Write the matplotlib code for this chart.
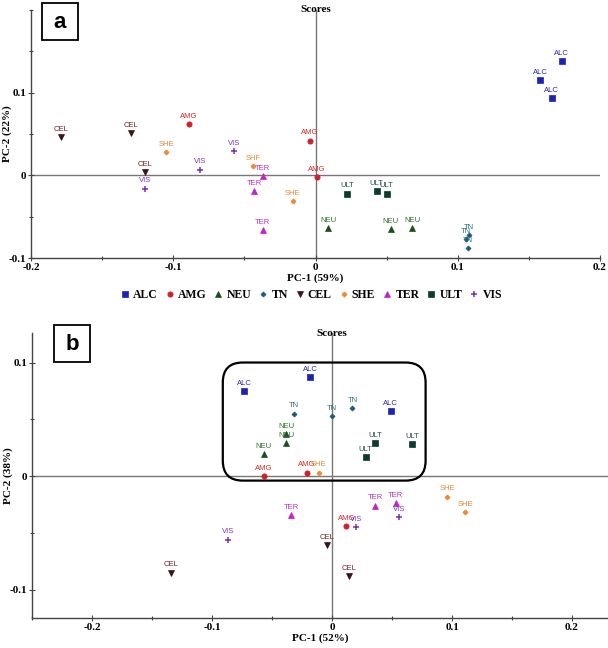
import matplotlib
matplotlib.use("Agg")
import matplotlib.pyplot as plt
import matplotlib.transforms as mtransforms
from matplotlib.lines import Line2D
from matplotlib.patches import Rectangle, FancyBboxPatch
from matplotlib.ticker import MultipleLocator, FixedLocator, FuncFormatter

plt.rcParams['axes.unicode_minus'] = False

groups = ['ALC', 'AMG', 'NEU', 'TN', 'CEL', 'SHE', 'TER', 'ULT', 'VIS']

# panel a scores
a_label = ['CEL', 'CEL', 'CEL', 'VIS', 'SHE', 'AMG', 'VIS', 'VIS', 'SHE', 'TER', 'TER', 'TER',
           'SHE', 'AMG', 'AMG', 'ULT', 'ULT', 'ULT', 'NEU', 'NEU', 'NEU', 'TN', 'TN', 'TN',
           'ALC', 'ALC', 'ALC']
a_pc1 = [-0.179, -0.130, -0.120, -0.120, -0.105, -0.089, -0.081, -0.057, -0.044, -0.037, -0.043, -0.037,
         -0.016, -0.004, 0.001, 0.022, 0.043, 0.050, 0.009, 0.053, 0.068, 0.108, 0.106, 0.107,
         0.173, 0.158, 0.166]
a_pc2 = [0.046, 0.051, 0.004, -0.016, 0.028, 0.062, 0.007, 0.029, 0.011, -0.001, -0.019, -0.066,
         -0.031, 0.042, -0.002, -0.022, -0.019, -0.022, -0.064, -0.065, -0.064, -0.072, -0.077, -0.088,
         0.138, 0.115, 0.093]
a_text = ['CEL', 'CEL', 'CEL', 'VIS', 'SHE', 'AMG', 'VIS', 'VIS', 'SHF', 'TER', 'TER', 'TER',
          'SHE', 'AMG', 'AMG', 'ULT', 'ULT', 'ULT', 'NEU', 'NEU', 'NEU', 'TN', 'TN', 'TN',
          'ALC', 'ALC', 'ALC']

# panel b scores
b_label = ['ALC', 'ALC', 'TN', 'NEU', 'NEU', 'NEU', 'AMG', 'AMG', 'SHE', 'TER', 'VIS', 'CEL',
           'TN', 'TN', 'ALC', 'ULT', 'ULT', 'ULT', 'TER', 'TER', 'VIS', 'AMG', 'VIS', 'CEL',
           'CEL', 'SHE', 'SHE']
b_pc1 = [-0.073, -0.018, -0.032, -0.038, -0.038, -0.057, -0.057, -0.021, -0.011, -0.034, -0.087, -0.134,
         0.000, 0.017, 0.049, 0.036, 0.028, 0.067, 0.036, 0.053, 0.056, 0.012, 0.020, -0.004,
         0.014, 0.096, 0.111]
b_pc2 = [0.075, 0.087, 0.055, 0.037, 0.029, 0.019, 0.000, 0.003, 0.003, -0.034, -0.056, -0.085,
         0.053, 0.060, 0.057, 0.029, 0.017, 0.028, -0.026, -0.024, -0.036, -0.044, -0.045, -0.061,
         -0.088, -0.018, -0.032]
b_box = [-0.091, -0.004, 0.078, 0.100]

marker = {'ALC': 's', 'AMG': 'o', 'NEU': '^', 'TN': 'D', 'CEL': 'v',
          'SHE': 'P', 'TER': '^', 'ULT': 's', 'VIS': '+'}
msize = {'ALC': 3.8, 'AMG': 3.8, 'NEU': 3.8, 'TN': 2.6, 'CEL': 3.8,
         'SHE': 3.4, 'TER': 3.8, 'ULT': 3.8, 'VIS': 4.2}
mcolor = {'ALC': '#1c22b4', 'AMG': '#d21e2a', 'NEU': '#1d4d1f', 'TN': '#1b5a78', 'CEL': '#3a1414',
          'SHE': '#e88a34', 'TER': '#c422c8', 'ULT': '#0c3a2e', 'VIS': '#7b2fb0'}
tcolor = {'ALC': '#2a2aa8', 'AMG': '#d02a2a', 'NEU': '#2f6e2a', 'TN': '#2a6f80', 'CEL': '#6a2424',
          'SHE': '#e08a3a', 'TER': '#c030c0', 'ULT': '#234a48', 'VIS': '#7a35b0'}

serif = 'Liberation Serif'
sans = 'Liberation Sans'

fig = plt.figure(figsize=(6.08, 6.48), dpi=100)
ax_a = fig.add_axes([31 / 608, 1 - 258 / 648, 569 / 608, 248 / 648])
ax_b = fig.add_axes([32 / 608, 1 - 618 / 648, 576 / 608, 285 / 648])


def style_axes(ax, xlim, ylim, xlab, ylab):
    ax.set_xlim(*xlim)
    ax.set_ylim(*ylim)
    for s in ['top', 'right']:
        ax.spines[s].set_visible(False)
    for s in ['left', 'bottom']:
        ax.spines[s].set_color('#444444')
        ax.spines[s].set_linewidth(1.0)
    ax.axhline(0, color='#777777', lw=1.0, zorder=1)
    ax.axvline(0, color='#777777', lw=1.0, zorder=1)
    ax.xaxis.set_major_locator(MultipleLocator(0.1))
    ax.xaxis.set_minor_locator(MultipleLocator(0.05))
    ax.yaxis.set_major_locator(FixedLocator([-0.1, 0, 0.1]))
    ax.yaxis.set_minor_locator(MultipleLocator(0.05))
    fmt = FuncFormatter(lambda v, p: '0' if abs(v) < 1e-9 else f'{v:g}')
    ax.xaxis.set_major_formatter(fmt)
    ax.yaxis.set_major_formatter(fmt)
    ax.tick_params(which='both', direction='inout', color='#444444', width=0.8)
    ax.tick_params(which='major', length=4, pad=1.5)
    ax.tick_params(which='minor', length=3)
    for t in ax.get_xticklabels() + ax.get_yticklabels():
        t.set_fontfamily(serif)
        t.set_fontweight('bold')
        t.set_fontsize(8)
    ax.set_xlabel(xlab, family=serif, weight='bold', fontsize=8, labelpad=1)
    ax.set_ylabel(ylab, family=serif, weight='bold', fontsize=8)
    w = ax.get_position().width * 608
    ax.yaxis.set_label_coords(-19 / w, 0.5)
    tr = mtransforms.blended_transform_factory(ax.transData, ax.transAxes)
    ax.text(0, 1.0, 'Scores', transform=tr, ha='center', va='center',
            family=serif, weight='bold', fontsize=8)


def draw_points(ax, labels, xs, ys, texts):
    for lab, x, y, txt in zip(labels, xs, ys, texts):
        ax.plot(x, y, marker=marker[lab], ms=msize[lab], color=mcolor[lab],
                mew=1.1 if lab == 'VIS' else 0.5, ls='none', zorder=3)
        ax.annotate(txt, (x, y), xytext=(0, 3), textcoords='offset points',
                    ha='center', va='bottom', fontsize=5.5, family=sans,
                    color=tcolor[lab], zorder=4)


style_axes(ax_a, (-0.2, 0.2), (-0.1, 0.2), 'PC-1 (59%)', 'PC-2 (22%)')
draw_points(ax_a, a_label, a_pc1, a_pc2, a_text)

style_axes(ax_b, (-0.25, 0.23), (-0.125, 0.126), 'PC-1 (52%)', 'PC-2 (38%)')
draw_points(ax_b, b_label, b_pc1, b_pc2, b_label)

# rounded box around cluster in panel b, drawn in inches so corners stay round
fig.canvas.draw()
to_in = ax_b.transData + fig.dpi_scale_trans.inverted()
(x0, y0) = to_in.transform((b_box[0], b_box[1]))
(x1, y1) = to_in.transform((b_box[2], b_box[3]))
fig.patches.append(FancyBboxPatch((x0, y0), x1 - x0, y1 - y0,
                                  boxstyle='round,pad=0,rounding_size=0.2',
                                  transform=fig.dpi_scale_trans, fill=False,
                                  ec='black', lw=1.6, zorder=5))

# panel letters
for letter, (px, py) in [('a', (42, 3)), ('b', (54, 325))]:
    fig.patches.append(Rectangle((px / 608, 1 - (py + 37) / 648), 36 / 608, 37 / 648,
                                 transform=fig.transFigure, fill=True, fc='white',
                                 ec='black', lw=1.3, zorder=5))
    fig.text((px + 18) / 608, 1 - (py + 19) / 648, letter, ha='center', va='center',
             family=sans, weight='bold', fontsize=16, zorder=6)

# shared legend between panels
handles = [Line2D([], [], marker=marker[g], ms=msize[g], color=mcolor[g], ls='none',
                  mew=1.1 if g == 'VIS' else 0.5) for g in groups]
leg = fig.legend(handles, groups, loc='center', bbox_to_anchor=(311 / 608, 1 - 295 / 648),
                 ncol=9, frameon=False, handlelength=0.8, handletextpad=0.3,
                 columnspacing=0.6, borderaxespad=0,
                 prop={'family': serif, 'weight': 'bold', 'size': 8.5})

fig.savefig('out.png', dpi=100)
